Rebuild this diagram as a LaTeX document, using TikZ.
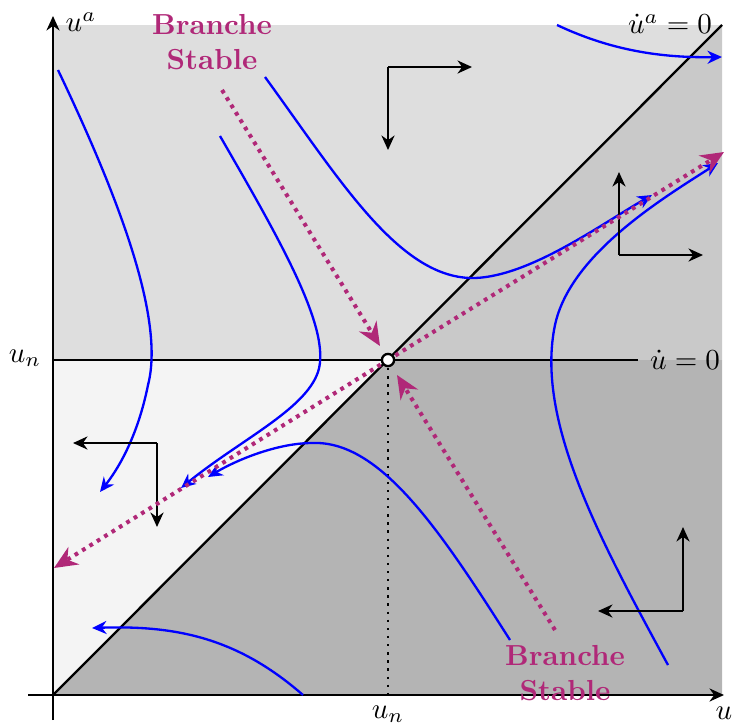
\documentclass[tikz,border=0pt]{standalone}
\usetikzlibrary{arrows.meta}
\definecolor{mag}{RGB}{176,40,120}
\definecolor{regA}{RGB}{222,222,222}
\definecolor{regB}{RGB}{201,201,201}
\definecolor{regC}{RGB}{180,180,180}
\definecolor{regD}{RGB}{244,244,244}
\begin{document}
\begin{tikzpicture}[x=0.345pt,y=-0.345pt,
  axis/.style={thick,-{Stealth[length=5pt,width=4.5pt,inset=1.6pt]}},
  dirarrow/.style={thick,-{Stealth[length=5pt,width=4.5pt,inset=1.6pt]}},
  flow/.style={blue,thick,-{Stealth[length=5pt,width=4.5pt,inset=1.6pt]}},
  manifold/.style={mag,line width=1.4pt,dash pattern=on 1.3pt off 1.7pt,-{Stealth[length=8pt,width=7pt,inset=2.6pt]}},
  lbl/.style={mag,font=\bfseries,align=center}]
\useasboundingbox (0,0) rectangle (733,724);
% regions
\fill[regA] (53,25) -- (722,25) -- (388,360) -- (53,360) -- cycle;
\fill[regB] (722,25) -- (722,360) -- (388,360) -- cycle;
\fill[regC] (388,360) -- (722,360) -- (722,695) -- (53,695) -- cycle;
\fill[regD] (53,360) -- (388,360) -- (53,695) -- cycle;
% key coordinates
\coordinate (O) at (53,695);
\coordinate (P) at (388,360);
\coordinate (diagEnd) at (722,25);
\coordinate (hEnd) at (638,360);
\coordinate (hStart) at (53,360);
\coordinate (vEnd) at (388,695);
% lines
\draw[thick] (O) -- (diagEnd);
\draw[thick] (hStart) -- (hEnd);
\draw[thick,dotted] (P) -- (vEnd);
% axes
\coordinate (xs) at (28,695); \coordinate (xe) at (724,695);
\coordinate (ys) at (53,720); \coordinate (ye) at (53,16);
\draw[axis] (xs) -- (xe);
\draw[axis] (ys) -- (ye);
\node (lu) at (724,713) {$u$};
\node (lua) at (81,22) {$u^a$};
\node (lun1) at (25,358) {$u_n$};
\node (lun2) at (388,714) {$u_n$};
\node (luad) at (670,24) {$\dot u^a = 0$};
\node (lud) at (685,360) {$\dot u = 0$};
% blue flow curves
\draw[flow] (58,70) .. controls (120,200) and (165,320) .. (148,385) .. controls (140,425) and (125,460) .. (100,492);
\draw[flow] (220,136) .. controls (280,240) and (332,330) .. (318,372) .. controls (305,410) and (240,440) .. (181,488);
\draw[flow] (265,77) .. controls (340,180) and (400,280) .. (475,278) .. controls (530,276) and (600,225) .. (652,195);
\draw[flow] (557,25) .. controls (610,50) and (660,58) .. (722,57);
\draw[flow] (668,665) .. controls (600,540) and (535,420) .. (555,325) .. controls (570,255) and (660,200) .. (718,163);
\draw[flow] (510,640) .. controls (440,530) and (380,440) .. (312,443) .. controls (280,443) and (240,458) .. (208,477);
\draw[flow] (303,695) .. controls (240,640) and (180,625) .. (92,628);
% direction indicators
\coordinate (c1) at (388,67); \coordinate (c1r) at (472,67); \coordinate (c1d) at (388,150);
\draw[dirarrow] (c1) -- (c1r); \draw[dirarrow] (c1) -- (c1d);
\coordinate (c2) at (619,255); \coordinate (c2u) at (619,172); \coordinate (c2r) at (703,255);
\draw[dirarrow] (c2) -- (c2u); \draw[dirarrow] (c2) -- (c2r);
\coordinate (c3) at (157,443); \coordinate (c3l) at (73,443); \coordinate (c3d) at (157,527);
\draw[dirarrow] (c3) -- (c3l); \draw[dirarrow] (c3) -- (c3d);
\coordinate (c4) at (683,611); \coordinate (c4u) at (683,527); \coordinate (c4l) at (598,611);
\draw[dirarrow] (c4) -- (c4u); \draw[dirarrow] (c4) -- (c4l);
% manifolds
\coordinate (uUp) at (724,152);
\coordinate (uDown) at (54,568);
\coordinate (sTop) at (222,90); \coordinate (sTopEnd) at (380,346);
\coordinate (sBot) at (555,630); \coordinate (sBotEnd) at (397,375);
\draw[manifold] (P) -- (uUp);
\draw[manifold] (P) -- (uDown);
\draw[manifold] (sTop) -- (sTopEnd);
\draw[manifold] (sBot) -- (sBotEnd);
% fixed point
\node[circle,draw,thick,fill=white,inner sep=0pt,minimum size=4.2pt] (fp) at (P) {};
% labels
\node[lbl] (bs1) at (212,42) {Branche\\Stable};
\node[lbl] (bs2) at (565,673) {Branche\\Stable};
\end{tikzpicture}
\end{document}
